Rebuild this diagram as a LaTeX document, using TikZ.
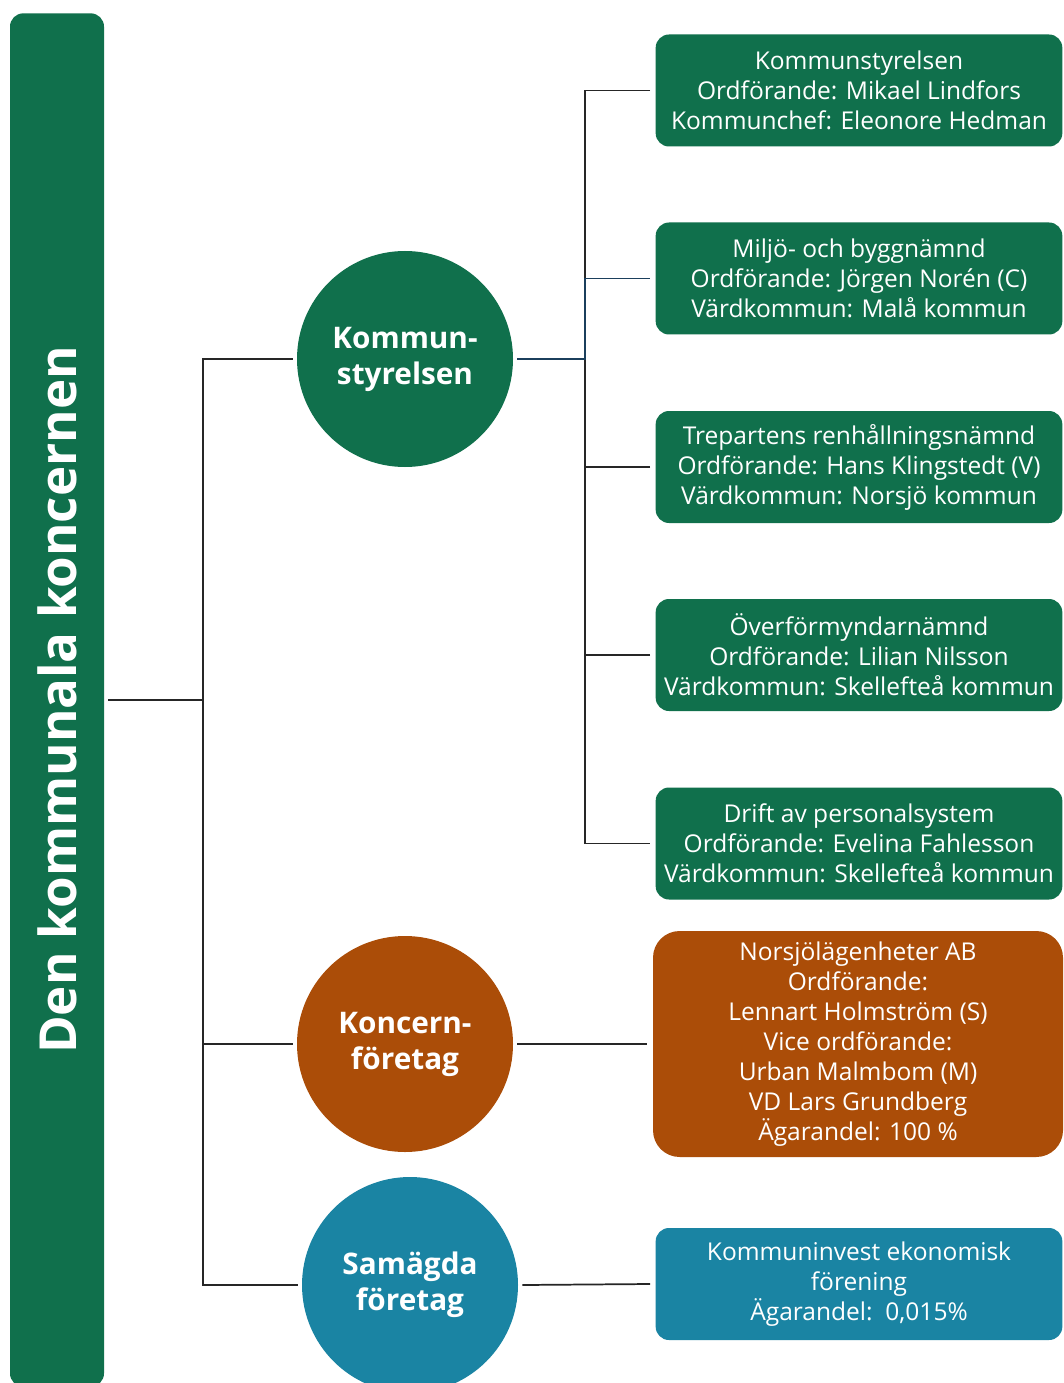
\documentclass[tikz,border=0pt]{standalone}
\usepackage{fontspec}
\setmainfont{Open Sans}
\definecolor{kgreen}{HTML}{10704C}
\definecolor{korange}{HTML}{AB4D08}
\definecolor{kblue}{HTML}{1A84A3}
\definecolor{knavy}{HTML}{1B3F5C}
\begin{document}
\begin{tikzpicture}[x=0.75pt,y=-0.75pt,
  conn/.style={line width=1.3pt,black!85},
  circ/.style={circle,minimum size=162pt,inner sep=0pt,text=white,align=center,
    font=\bfseries\fontsize{22.3}{27}\selectfont},
  infobox/.style={rectangle,rounded corners=10pt,fill=kgreen,text=white,align=center,
    minimum width=305pt,minimum height=84pt,inner sep=0pt,
    font=\fontsize{18.4}{22.5}\selectfont}]
\useasboundingbox[fill=white] (0,0) rectangle (1063,1383);
% left bar
\node[rectangle,rounded corners=10pt,fill=kgreen,minimum width=70.5pt,minimum height=1030pt,inner sep=0pt] (bar) at (57,700) {};
\node[rotate=90,text=white,font=\bfseries\fontsize{38.3}{42}\selectfont] (bartxt) at (57,700) {Den kommunala koncernen};
% circles
\node[circ,fill=kgreen] (ks) at (405,359) {Kommun-\\styrelsen};
\node[circ,fill=korange] (kf) at (405,1044) {Koncern-\\företag};
\node[circ,fill=kblue] (sf) at (410,1285) {Samägda\\företag};
% boxes
\node[infobox] (b1) at (859,90.5) {Kommunstyrelsen\\Ordförande: Mikael Lindfors\\Kommunchef: Eleonore Hedman};
\node[infobox] (b2) at (859,278.5) {Miljö- och byggnämnd\\Ordförande: Jörgen Norén (C)\\Värdkommun: Malå kommun};
\node[infobox] (b3) at (859,467) {Trepartens renhållningsnämnd\\Ordförande: Hans Klingstedt (V)\\Värdkommun: Norsjö kommun};
\node[infobox] (b4) at (859,655) {Överförmyndarnämnd\\Ordförande: Lilian Nilsson\\Värdkommun: Skellefteå kommun};
\node[infobox] (b5) at (859,843.5) {Drift av personalsystem\\Ordförande: Evelina Fahlesson\\Värdkommun: Skellefteå kommun};
\node[infobox,fill=korange,rounded corners=20pt,minimum width=307.5pt,minimum height=169.5pt] (bo) at (858,1044) {Norsjölägenheter AB\\Ordförande:\\Lennart Holmström (S)\\Vice ordförande:\\Urban Malmbom (M)\\VD Lars Grundberg\\Ägarandel: 100 \%};
\node[infobox,fill=kblue] (bb) at (859,1284) {Kommuninvest ekonomisk\\förening\\Ägarandel:\ \ 0,015\%};
% connectors
\coordinate (jl) at (203,0);
\coordinate (jr) at (585,0);
\draw[conn] (bar.east -| 108,0) -- (bar.east -| jl);
\draw[conn] ([xshift=-3pt]ks.west) -- (ks.west -| jl) -- (sf.west -| jl) -- ([xshift=-3pt]sf.west);
\draw[conn] ([xshift=-3pt]kf.west) -- (kf.west -| jl);
\draw[conn] ([xshift=-4pt]b1.west) -- (b1.west -| jr) -- (b5.west -| jr) -- ([xshift=-4pt]b5.west);
\draw[conn] ([xshift=-4pt]b3.west) -- (b3.west -| jr);
\draw[conn] ([xshift=-4pt]b4.west) -- (b4.west -| jr);
\draw[conn,knavy] ([xshift=3pt]ks.east) -- (ks.east -| jr) -- (b2.west -| jr) -- ([xshift=-4pt]b2.west);
\draw[conn] ([xshift=3pt]kf.east) -- ([xshift=-4pt]bo.west);
\draw[conn] ([xshift=3pt]sf.east) -- ([xshift=-4pt]bb.west);
\end{tikzpicture}
\end{document}
